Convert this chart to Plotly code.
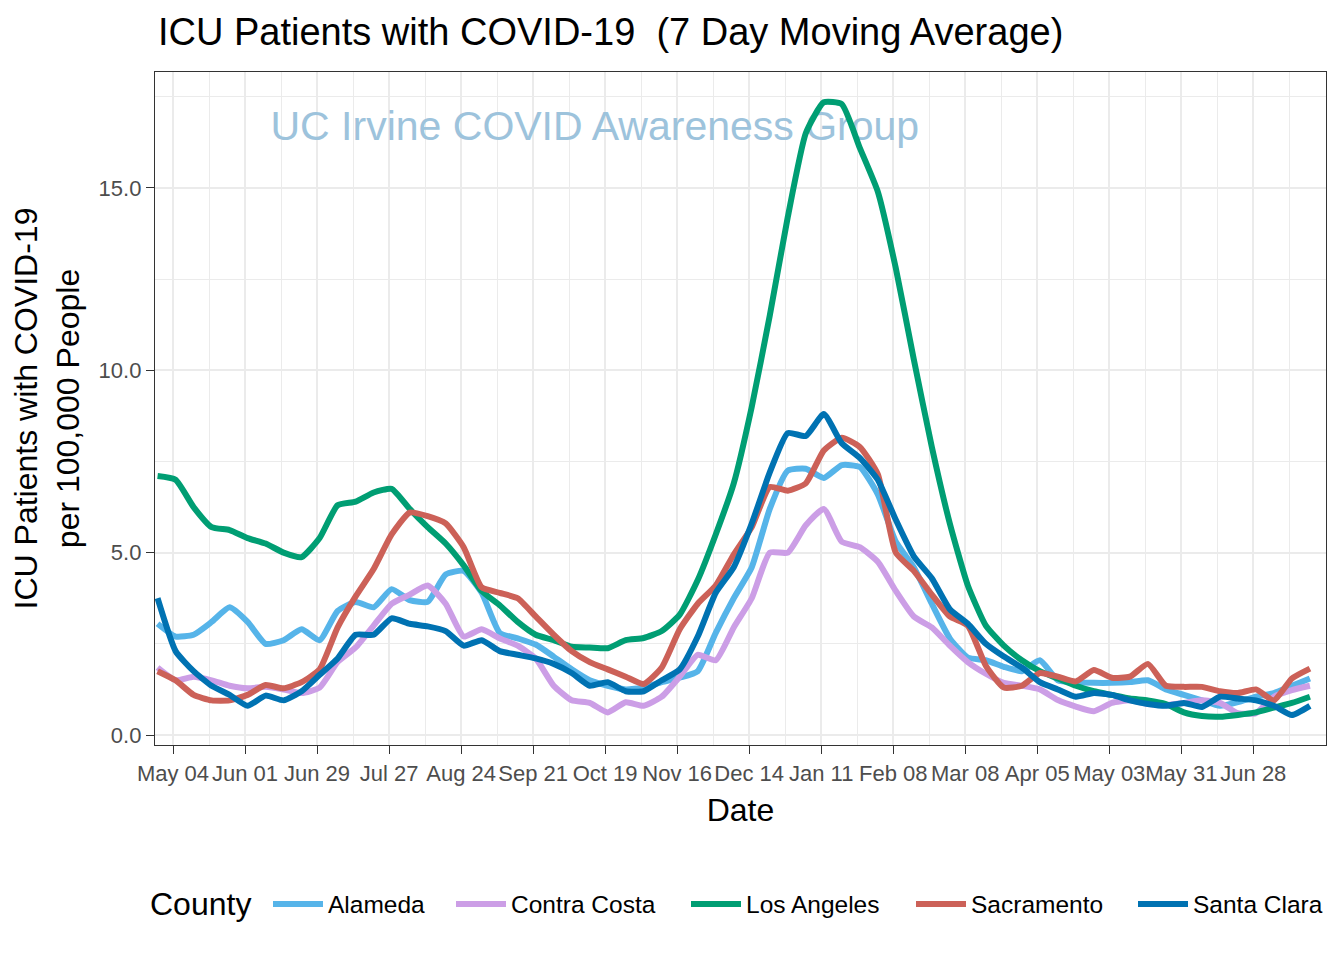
import pandas as pd
import plotly.graph_objects as go

# Weekly readings (7-day moving average ICU patients per 100k)
dates = pd.date_range("2020-04-28", periods=65, freq="7D")

alameda = [3.05, 2.7, 2.75, 3.1, 3.5, 3.1, 2.5, 2.6, 2.9, 2.6,
           3.4, 3.65, 3.5, 4.0, 3.7, 3.65, 4.4, 4.5, 3.9, 2.8,
           2.65, 2.48, 2.15, 1.8, 1.5, 1.35, 1.25, 1.3, 1.45, 1.57,
           1.75, 2.8, 3.75, 4.6, 6.2, 7.25, 7.3, 7.05, 7.4, 7.35,
           6.6, 5.3, 4.6, 3.6, 2.65, 2.12, 2.05, 1.87, 1.75, 2.05,
           1.5, 1.45, 1.43, 1.43, 1.45, 1.5, 1.25, 1.1, 0.95, 0.8,
           0.9, 1.05, 1.15, 1.35, 1.55]

contra_costa = [1.85, 1.5, 1.6, 1.5, 1.35, 1.28, 1.32, 1.25, 1.15, 1.3,
                2.0, 2.4, 3.0, 3.6, 3.85, 4.1, 3.6, 2.7, 2.9, 2.65,
                2.45, 2.1, 1.35, 0.95, 0.88, 0.62, 0.9, 0.8, 1.05, 1.6,
                2.2, 2.05, 2.95, 3.75, 5.0, 5.0, 5.75, 6.2, 5.3, 5.15,
                4.75, 3.95, 3.25, 2.95, 2.45, 2.0, 1.68, 1.43, 1.35, 1.25,
                0.96, 0.78, 0.65, 0.88, 0.95, 0.85, 0.82, 0.88, 0.95, 0.88,
                0.6, 0.6, 1.05, 1.23, 1.35]

los_angeles = [7.1, 7.0, 6.25, 5.7, 5.62, 5.4, 5.25, 5.0, 4.88, 5.4,
               6.3, 6.4, 6.65, 6.75, 6.2, 5.7, 5.25, 4.65, 3.95, 3.56,
               3.1, 2.75, 2.6, 2.42, 2.4, 2.38, 2.6, 2.66, 2.85, 3.3,
               4.25, 5.5, 6.9, 9.0, 11.5, 14.2, 16.5, 17.35, 17.3, 16.1,
               14.9, 12.8, 10.3, 7.9, 5.8, 4.1, 3.0, 2.45, 2.05, 1.75,
               1.55, 1.35, 1.2, 1.1, 1.0, 0.95, 0.85, 0.62, 0.52, 0.5,
               0.55, 0.62, 0.75, 0.88, 1.05]

sacramento = [1.75, 1.5, 1.1, 0.95, 0.95, 1.1, 1.37, 1.28, 1.45, 1.8,
              2.95, 3.8, 4.55, 5.5, 6.1, 6.0, 5.8, 5.15, 4.05, 3.9,
              3.75, 3.25, 2.75, 2.3, 2.0, 1.8, 1.6, 1.4, 1.85, 2.9,
              3.6, 4.1, 4.95, 5.7, 6.8, 6.7, 6.9, 7.8, 8.15, 7.9,
              7.15, 5.0, 4.5, 3.85, 3.25, 3.0, 1.9, 1.3, 1.35, 1.7,
              1.6, 1.47, 1.78, 1.57, 1.6, 1.95, 1.35, 1.32, 1.32, 1.2,
              1.15, 1.25, 0.95, 1.55, 1.82]

santa_clara = [3.75, 2.3, 1.75, 1.35, 1.1, 0.8, 1.08, 0.95, 1.2, 1.65,
               2.1, 2.75, 2.75, 3.2, 3.05, 2.98, 2.85, 2.45, 2.6, 2.3,
               2.2, 2.1, 1.95, 1.7, 1.35, 1.45, 1.2, 1.2, 1.5, 1.8,
               2.7, 3.9, 4.6, 5.8, 7.2, 8.28, 8.2, 8.8, 8.0, 7.6,
               7.0, 5.9, 4.9, 4.3, 3.45, 3.05, 2.5, 2.15, 1.85, 1.45,
               1.25, 1.05, 1.15, 1.1, 0.95, 0.85, 0.8, 0.88, 0.77, 1.05,
               1.0, 0.95, 0.8, 0.55, 0.8]

counties = ["Alameda", "Contra Costa", "Los Angeles", "Sacramento", "Santa Clara"]
series = [alameda, contra_costa, los_angeles, sacramento, santa_clara]
colors = ["#56B4E9", "#CC9EE6", "#009E73", "#CC6158", "#0072B2"]

tick_dates = pd.date_range("2020-05-04", periods=16, freq="28D")
y_ticks = [0, 5, 10, 15]

FONT = "Liberation Sans, Arial, Helvetica, sans-serif"
W, H = 1344, 960
OFF = 8  # page body offset compensation
ML, MR, MT, MB = 155 - OFF, 18 + OFF, 72 - OFF, 215 + OFF
LEGEND_KEY_X = [268, 451, 686, 911, 1133]  # page px where each legend key starts
LEGEND_Y = 904

fig = go.Figure()

# watermark under the lines
fig.add_trace(go.Scatter(
    x=[pd.Timestamp("2020-10-15")], y=[16.6], mode="text",
    text=["UC Irvine COVID Awareness Group"],
    textfont=dict(family=FONT, size=41, color="#9DC3DC"),
    textposition="middle center", showlegend=False, hoverinfo="skip"))

legend_layout = {}
for i, (name, vals, col) in enumerate(zip(counties, series, colors)):
    lname = "legend" if i == 0 else f"legend{i + 1}"
    fig.add_trace(go.Scatter(x=dates, y=vals, mode="lines", name=name, legend=lname,
                             line=dict(color=col, width=6, shape="spline", smoothing=0.5)))
    legend_layout[lname] = dict(
        orientation="h", x=(LEGEND_KEY_X[i] - OFF) / W, xref="container", xanchor="left",
        y=1 - (LEGEND_Y - OFF) / H, yref="container", yanchor="middle",
        font=dict(size=24.5), itemwidth=50, bgcolor="rgba(0,0,0,0)")

fig.update_layout(
    width=W, height=H,
    paper_bgcolor="white", plot_bgcolor="white",
    margin=dict(l=ML, r=MR, t=MT, b=MB, autoexpand=False),
    font=dict(family=FONT, color="black"),
    title=dict(text="ICU Patients with COVID-19\u00a0 (7 Day Moving Average)",
               x=(158 - OFF) / W, xanchor="left", xref="container",
               y=1 - (32 - OFF) / H, yanchor="middle", yref="container",
               font=dict(size=38, color="black")),
    showlegend=True,
    **legend_layout,
)

# legend title "County"
fig.add_annotation(text="County", xref="paper", yref="paper",
                   x=(148 - OFF - ML) / (W - ML - MR),
                   y=-((LEGEND_Y - OFF) - (H - MB)) / (H - MT - MB),
                   xanchor="left", yanchor="middle", showarrow=False,
                   font=dict(size=32, color="black"))

fig.update_xaxes(
    type="date",
    range=["2020-04-27", "2021-07-26 06:00"],
    tickmode="array", tickvals=tick_dates, tickformat="%b %d", tickangle=0,
    tickfont=dict(size=22, color="#4D4D4D"),
    ticks="outside", ticklen=8, tickwidth=1.3, tickcolor="#333333",
    showgrid=True, gridcolor="#EBEBEB", gridwidth=2,
    minor=dict(showgrid=True, gridcolor="#EBEBEB", gridwidth=1,
               tick0="2020-05-04", dtick=14 * 86400000),
    showline=True, mirror=True, linecolor="#333333", linewidth=1.3,
    zeroline=False, automargin=False,
    title=dict(text="Date", font=dict(size=32), standoff=14),
)

fig.update_yaxes(
    range=[-0.274, 18.18],
    tickmode="array", tickvals=y_ticks, tickformat=".1f",
    tickfont=dict(size=22, color="#4D4D4D"),
    ticks="outside", ticklen=8, tickwidth=1.3, tickcolor="#333333",
    showgrid=True, gridcolor="#EBEBEB", gridwidth=2,
    minor=dict(showgrid=True, gridcolor="#EBEBEB", gridwidth=1, tick0=0, dtick=2.5),
    showline=True, mirror=True, linecolor="#333333", linewidth=1.3,
    zeroline=False, automargin=False,
    title=dict(text="ICU Patients with COVID-19<br>per 100,000 People",
               font=dict(size=32), standoff=12),
)

fig.write_html("out.html")
